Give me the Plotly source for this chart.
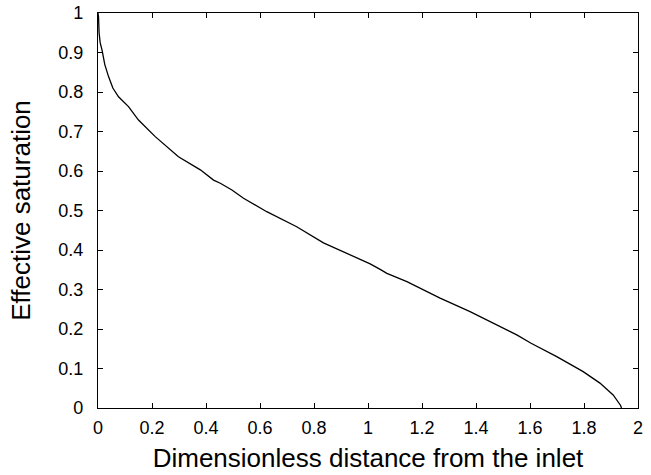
import plotly.graph_objects as go

distance = [0.0, 0.002, 0.004, 0.008, 0.015, 0.025, 0.039, 0.055, 0.076, 0.095, 0.113, 0.150,
            0.212, 0.298, 0.379, 0.428, 0.453, 0.496, 0.539, 0.625, 0.736, 0.835, 0.934,
            1.008, 1.045, 1.07, 1.144, 1.267, 1.378, 1.489, 1.551, 1.604, 1.699, 1.797,
            1.859, 1.908, 1.927, 1.935, 1.939]
saturation = [1.0, 0.99, 0.95, 0.925, 0.906, 0.87, 0.839, 0.81, 0.788, 0.775, 0.763, 0.729,
              0.687, 0.636, 0.603, 0.577, 0.569, 0.552, 0.531, 0.497, 0.459, 0.418, 0.387,
              0.365, 0.351, 0.341, 0.320, 0.278, 0.244, 0.205, 0.185, 0.164, 0.130, 0.092,
              0.063, 0.033, 0.016, 0.007, 0.0]

x_ticks = [0, 0.2, 0.4, 0.6, 0.8, 1, 1.2, 1.4, 1.6, 1.8, 2]
x_labels = ["0", "0.2", "0.4", "0.6", "0.8", "1", "1.2", "1.4", "1.6", "1.8", "2"]
y_ticks = [0, 0.1, 0.2, 0.3, 0.4, 0.5, 0.6, 0.7, 0.8, 0.9, 1]
y_labels = ["0", "0.1", "0.2", "0.3", "0.4", "0.5", "0.6", "0.7", "0.8", "0.9", "1"]

fig = go.Figure()
fig.add_trace(go.Scatter(x=distance, y=saturation, mode="lines",
                         line=dict(color="black", width=1.3), showlegend=False))

font = "Liberation Sans, Arial, Helvetica, sans-serif"
axis_common = dict(showline=True, linecolor="black", linewidth=1.4, mirror="ticks",
                   ticks="inside", ticklen=5, tickcolor="black", tickwidth=1,
                   showgrid=False, zeroline=False, automargin=False,
                   tickfont=dict(family=font, size=18, color="black"))

fig.update_layout(
    width=651, height=475,
    margin=dict(l=98, r=13, t=13, b=67),
    paper_bgcolor="white", plot_bgcolor="white",
    xaxis=dict(range=[0, 2], tickvals=x_ticks, ticktext=x_labels, ticklabelstandoff=3,
               title=dict(text="Dimensionless distance from the inlet",
                          font=dict(family=font, size=26, color="black"), standoff=12),
               **axis_common),
    yaxis=dict(range=[0, 1], tickvals=y_ticks, ticktext=y_labels, ticklabelstandoff=10,
               title=dict(text="Effective saturation",
                          font=dict(family=font, size=26, color="black"), standoff=20),
               **axis_common),
)

fig.write_html("out.html")
